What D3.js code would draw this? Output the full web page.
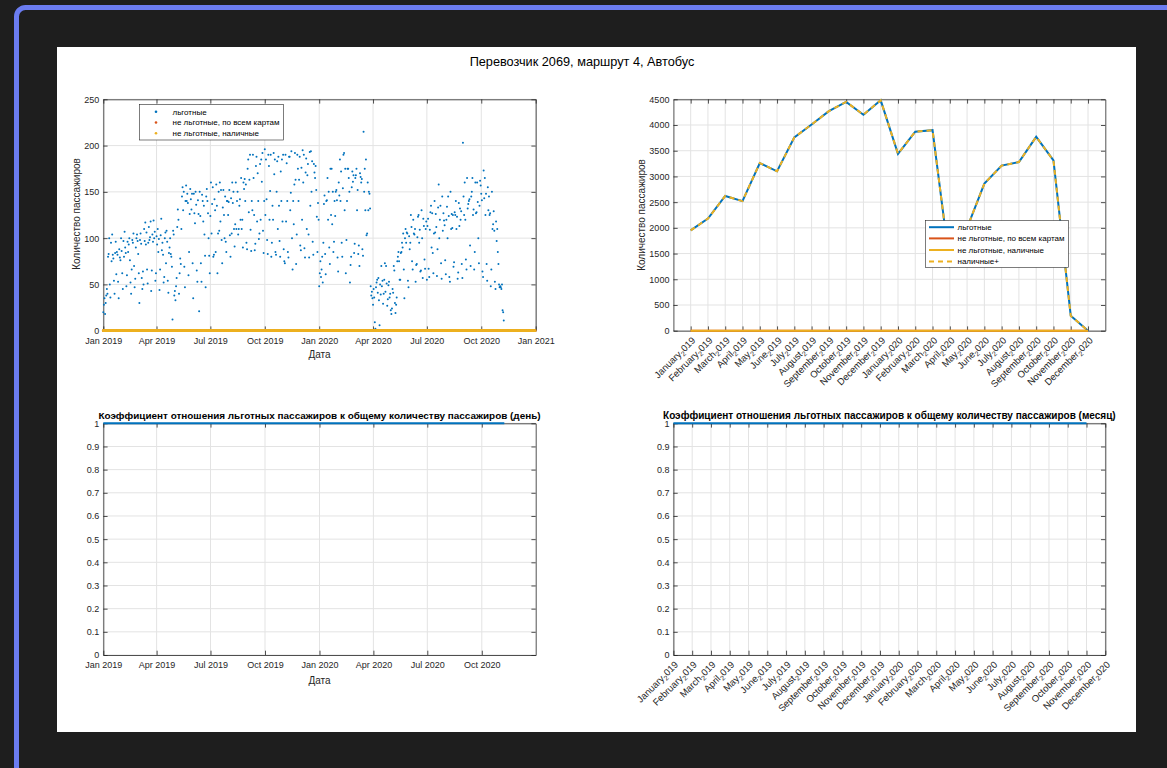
<!DOCTYPE html>
<html><head><meta charset="utf-8">
<script src="https://cdn.jsdelivr.net/npm/d3@7"></script>
<style>
html,body{margin:0;padding:0;background:#1e1e1e;width:1167px;height:768px;overflow:hidden;}
svg{display:block;font-family:"Liberation Sans",Arial,Helvetica,sans-serif;}
</style></head><body>
<svg id="c" width="1167" height="768"></svg>
<script>
// ---------------- DATA ----------------
const figTitle = "Перевозчик 2069, маршрут 4, Автобус";
const seriesNames = ["льготные", "не льготные, по всем картам", "не льготные, наличные", "наличные+"];
const yLabel = "Количество пассажиров";
const xLabel = "Дата";
const dayRatioTitle = "Коэффициент отношения льготных пассажиров к общему количеству пассажиров (день)";
const monthRatioTitle = "Коэффициент отношения льготных пассажиров к общему количеству пассажиров (месяц)";

// daily benefit passengers, 2019 (from Tue 1 Jan, rows of 7 days)
const benefit2019 = [
 20,28,35,18,30,38,45,
 40,80,83,100,50,36,95,
 75,104,82,78,54,40,84,
 96,61,85,82,53,35,88,
 79,76,100,86,62,45,97,
 80,107,90,84,48,60,96,
 85,93,100,76,52,40,66,
 98,95,105,70,47,56,90,
 100,104,97,83,62,30,98,
 105,94,57,45,64,50,110,
 97,117,93,106,66,51,95,
 112,98,101,118,43,65,104,
 96,119,100,107,54,62,102,
 93,110,85,99,44,66,103,
 121,87,95,82,52,58,100,
 106,73,108,96,54,41,84,
 90,100,83,80,69,12,108,
 104,38,43,33,48,57,112,
 131,120,40,62,78,72,110,
 145,155,130,150,69,47,140,
 157,140,148,138,60,85,126,
 153,142,131,148,73,35,148,
 127,116,150,136,65,53,141,
 126,21,150,124,73,53,147,
 140,118,135,104,81,47,145,
 153,140,127,100,81,62,124,
 160,105,137,155,80,82,142,
 130,85,158,135,62,105,150,
 108,160,118,152,98,73,133,
 152,125,100,145,96,85,140,
 140,125,139,152,103,80,143,
 105,160,138,150,110,91,115,
 160,110,140,150,104,110,135,
 142,120,165,110,120,90,160,
 153,164,140,158,95,88,175,
 185,128,163,190,109,86,140,
 130,190,165,125,87,94,178,
 188,118,170,140,99,105,180,
 120,185,161,192,108,84,140,
 196,125,185,142,98,83,190,
 178,120,151,190,80,95,135,
 120,192,169,185,85,82,150,
 183,110,188,135,97,80,172,
 140,185,118,190,88,75,73,
 190,118,181,140,85,79,188,
 188,130,149,194,100,66,140,
 115,158,192,163,72,104,190,
 175,140,163,188,92,87,176,
 120,195,160,190,89,79,171,
 186,110,168,180,104,79,193,
 135,194,150,183,96,82,180,
 171,165,178,152,123,85,138,
 120
];
// daily benefit passengers, 2020 (from Wed 1 Jan, rows of 7 days)
const benefit2020 = [
 48,62,75,58,66,80,52,
 95,137,146,83,61,140,141,
 165,120,150,90,72,175,125,
 175,115,150,85,96,140,124,
 150,152,141,79,64,160,146,
 185,140,172,95,80,154,190,
 192,130,175,62,98,140,175,
 175,165,150,52,71,80,155,
 172,161,168,84,94,165,168,
 175,130,152,83,92,70,170,
 166,160,164,88,81,215,150,
 175,130,185,103,105,160,130,
 150,148,132,48,38,42,35,
 28,45,36,9,2,47,52,
 55,41,57,33,6,50,39,
 70,48,54,29,40,55,73,
 42,70,51,27,34,49,53,
 36,40,22,18,24,45,41,
 70,65,30,19,28,36,75,
 80,85,75,55,55,84,85,
 95,90,105,66,35,100,110,
 95,106,105,54,47,102,88,
 95,125,112,75,66,120,105,
 104,110,53,71,72,101,123,
 125,95,109,64,65,130,100,
 57,121,113,77,67,110,118,
 55,113,121,67,58,109,128,
 135,90,127,84,62,105,140,
 106,126,112,59,88,133,158,
 100,120,135,73,56,145,108,
 127,119,114,76,61,120,134,
 100,145,124,58,53,150,110,
 126,111,125,69,74,128,125,
 140,110,123,56,63,138,113,
 132,120,129,72,57,203,145,
 125,160,120,77,66,165,132,
 137,140,142,92,70,145,150,
 165,125,131,66,85,160,127,
 128,160,139,100,73,135,162,
 157,148,141,64,58,173,143,
 165,125,148,72,54,155,130,
 145,125,127,48,66,150,110,
 115,129,108,53,45,118,97,
 110,85,72,50,47,48,47,
 45,50,22,20,11,0,0,
 0,0,0,0,0,0,0,
 0,0,0,0,0,0,0,
 0,0,0,0,0,0,0,
 0,0,0,0,0,0,0,
 0,0,0,0,0,0,0,
 0,0,0,0,0,0,0,
 0,0,0,0,0,0,0,
 0,0
];
const benefitDaily = benefit2019.concat(benefit2020);
// non-benefit series are zero on every day in the source chart
const nonBenefitCardsDaily = new Array(benefitDaily.length).fill(0);
const nonBenefitCashDaily = new Array(benefitDaily.length).fill(0);

const monthLabels = ["January_2019","February_2019","March_2019","April_2019","May_2019","June_2019",
 "July_2019","August_2019","September_2019","October_2019","November_2019","December_2019",
 "January_2020","February_2020","March_2020","April_2020","May_2020","June_2020",
 "July_2020","August_2020","September_2020","October_2020","November_2020","December_2020"];
const benefitMonthly = [1950,2180,2620,2520,3260,3100,3760,4010,4270,4450,4200,4480,
                        3440,3870,3900,1280,2000,2860,3210,3280,3770,3310,290,0];
const nonBenefitCardsMonthly = [0,0,0,0,0,0,0,0,0,0,0,0,0,0,0,0,0,0,0,0,0,0,0,0];
const nonBenefitCashMonthly  = [0,0,0,0,0,0,0,0,0,0,0,0,0,0,0,0,0,0,0,0,0,0,0,0];
const cashPlusMonthly = [1950,2180,2620,2520,3260,3100,3760,4010,4270,4450,4200,4480,
                         3440,3870,3900,1280,2000,2860,3210,3280,3770,3310,290,0];

const dailyYTicks = [0,50,100,150,200,250];
const monthlyYTicks = [0,500,1000,1500,2000,2500,3000,3500,4000,4500];
const ratioYTicks = [0,0.1,0.2,0.3,0.4,0.5,0.6,0.7,0.8,0.9,1];

// ---------------- DRAW ----------------
const DARK = '#262626', GRID = '#e3e3e3';
const C = ['#0072BD','#D95319','#EDB120','#EDB120'];
const svg = d3.select('#c');

svg.append('rect').attr('x',16.5).attr('y',7.5).attr('width',1400).attr('height',1000)
   .attr('rx',9).attr('fill','none').attr('stroke','#6b7cf0').attr('stroke-width',5);
svg.append('rect').attr('x',57).attr('y',47).attr('width',1079).attr('height',685).attr('fill','#fff');

const start = new Date(2019,0,1);
const dates = benefitDaily.map((d,i)=>d3.timeDay.offset(start,i));

function fitText(t, w){ const l=t.node().getComputedTextLength(); const fs=+t.attr('font-size'); t.attr('font-size', fs*w/l); }

const title = svg.append('text').attr('x',582).attr('y',66).attr('text-anchor','middle')
   .attr('font-size',12).attr('fill','#000').text(figTitle);
fitText(title, 225);

function frame(o){
  const g = svg.append('g');
  const {x,y,L,R,T,B,xt,yt} = o;
  g.selectAll(null).data(xt).join('line').attr('x1',d=>x(d)).attr('x2',d=>x(d))
    .attr('y1',T).attr('y2',B).attr('stroke',GRID).attr('stroke-width',1);
  g.selectAll(null).data(yt).join('line').attr('y1',d=>y(d)).attr('y2',d=>y(d))
    .attr('x1',L).attr('x2',R).attr('stroke',GRID).attr('stroke-width',1);
  const ax = [
    g.append('g').attr('transform',`translate(0,${B})`).call(d3.axisBottom(x).tickValues(xt).tickFormat(o.xfmt||'').tickSize(-4.3).tickSizeOuter(0).tickPadding(7)),
    g.append('g').attr('transform',`translate(0,${T})`).call(d3.axisTop(x).tickValues(xt).tickFormat('').tickSize(-4.3).tickSizeOuter(0)),
    g.append('g').attr('transform',`translate(${L},0)`).call(d3.axisLeft(y).tickValues(yt).tickFormat(o.yfmt).tickSize(-4.3).tickSizeOuter(0).tickPadding(4)),
    g.append('g').attr('transform',`translate(${R},0)`).call(d3.axisRight(y).tickValues(yt).tickFormat('').tickSize(-4.3).tickSizeOuter(0))
  ];
  ax.forEach(a=>{
    a.attr('font-family',null).attr('font-size',9);
    a.select('.domain').attr('stroke',DARK).attr('stroke-width',0.8);
    a.selectAll('.tick line').attr('stroke',DARK).attr('stroke-width',0.8);
    a.selectAll('.tick text').attr('fill',DARK);
  });
  return g;
}
function rotLabels(x, yBase){
  const g = svg.append('g');
  monthLabels.forEach((lab,i)=>{
    const [a,b] = lab.split('_');
    const t = g.append('text').attr('transform',`translate(${x(i+1)+3},${yBase}) rotate(-45)`)
      .attr('text-anchor','end').attr('font-size',9.5).attr('fill',DARK).attr('dy','0.35em');
    t.append('tspan').text(a);
    t.append('tspan').attr('font-size',7).attr('dy',2.5).text(b[0]);
    t.append('tspan').attr('dy',-2.5).text(b.slice(1));
  });
}
function ylab(xc, yc){
  svg.append('text').attr('transform',`translate(${xc},${yc}) rotate(-90)`).attr('text-anchor','middle')
    .attr('dy','0.35em').attr('font-size',10).attr('fill',DARK).text(yLabel);
}

// ---- top-left: daily scatter
{
  const L=103.3,R=535.7,T=99.3,B=330.7;
  const x = d3.scaleTime().domain([new Date(2019,0,1), new Date(2021,0,1)]).range([L,R]);
  const y = d3.scaleLinear().domain([0,250]).range([B,T]);
  const xt = d3.timeMonth.every(3).range(new Date(2019,0,1), new Date(2021,0,2));
  frame({x,y,L,R,T,B,xt,yt:dailyYTicks,xfmt:d3.timeFormat('%b %Y'),yfmt:d3.format('d')});
  const series = [benefitDaily, nonBenefitCardsDaily, nonBenefitCashDaily];
  series.forEach((s,k)=>{
    svg.append('g').selectAll('circle').data(s).join('circle')
      .attr('cx',(d,i)=>x(dates[i])).attr('cy',d=>y(d)).attr('r',k===0?1.0:1.4).attr('fill',C[k]);
  });
  svg.append('text').attr('x',(L+R)/2).attr('y',358).attr('text-anchor','middle').attr('font-size',10).attr('fill',DARK).text(xLabel);
  ylab(76,214);
  const lg = svg.append('g');
  lg.append('rect').attr('x',139.5).attr('y',104.5).attr('width',144).attr('height',35.5).attr('fill','#fff').attr('stroke',DARK).attr('stroke-width',0.6);
  const ly = [111.7,122.5,133.3];
  [0,1,2].forEach(k=>{
    lg.append('circle').attr('cx',156).attr('cy',ly[k]).attr('r',1.3).attr('fill',C[k]);
    lg.append('text').attr('x',172.5).attr('y',ly[k]).attr('dy','0.35em').attr('font-size',8).attr('fill','#000').text(seriesNames[k]);
  });
}

// ---- top-right: monthly lines
{
  const L=673.4,R=1105.3,T=99.3,B=330.7;
  const x = d3.scaleLinear().domain([0,25]).range([L,R]);
  const y = d3.scaleLinear().domain([0,4500]).range([B,T]);
  const xt = monthLabels.map((d,i)=>i+1);
  frame({x,y,L,R,T,B,xt,yt:monthlyYTicks,yfmt:d3.format('d')});
  rotLabels(x, B+8);
  const line = d3.line().x((d,i)=>x(i+1)).y(d=>y(d));
  const ser = [benefitMonthly, nonBenefitCardsMonthly, nonBenefitCashMonthly, cashPlusMonthly];
  ser.forEach((s,k)=>{
    svg.append('path').datum(s).attr('d',line).attr('fill','none').attr('stroke',C[k]).attr('stroke-width',2)
      .attr('stroke-dasharray',k===3?'5,4':null);
  });
  ylab(641,215);
  const lg = svg.append('g');
  lg.append('rect').attr('x',925.5).attr('y',220.5).attr('width',143).attr('height',47).attr('fill','#fff').attr('stroke',DARK).attr('stroke-width',0.6);
  const ly = [227.2,238.4,250,261.6];
  [0,1,2,3].forEach(k=>{
    lg.append('line').attr('x1',929).attr('x2',954).attr('y1',ly[k]).attr('y2',ly[k]).attr('stroke',C[k]).attr('stroke-width',2)
      .attr('stroke-dasharray',k===3?'5,4':null);
    lg.append('text').attr('x',957.5).attr('y',ly[k]).attr('dy','0.35em').attr('font-size',8).attr('fill','#000').text(seriesNames[k]);
  });
}

// ---- bottom-left: daily ratio
{
  const L=103.3,R=535.7,T=423.3,B=655;
  const x = d3.scaleTime().domain([new Date(2019,0,1), new Date(2020,11,31)]).range([L,R]);
  const y = d3.scaleLinear().domain([0,1]).range([B,T]);
  const xt = d3.timeMonth.every(3).range(new Date(2019,0,1), new Date(2020,11,31));
  frame({x,y,L,R,T,B,xt,yt:ratioYTicks,xfmt:d3.timeFormat('%b %Y'),yfmt:d=>d===0?'0':d===1?'1':d3.format('.1f')(d)});
  const ratio = benefitDaily.map((b,i)=>{const s=b+nonBenefitCardsDaily[i]+nonBenefitCashDaily[i]; return s>0?b/s:NaN;});
  svg.append('path').datum(ratio).attr('fill','none').attr('stroke',C[0]).attr('stroke-width',2)
    .attr('d',d3.line().defined(d=>!isNaN(d)).x((d,i)=>x(dates[i])).y(d=>y(d)));
  svg.append('text').attr('x',(L+R)/2).attr('y',684).attr('text-anchor','middle').attr('font-size',10).attr('fill',DARK).text(xLabel);
  const t = svg.append('text').attr('x',(L+R)/2).attr('y',418.5).attr('text-anchor','middle').attr('font-size',10)
    .attr('font-weight','bold').attr('fill','#000').text(dayRatioTitle);
  fitText(t, 443);
}

// ---- bottom-right: monthly ratio
{
  const L=673.4,R=1105.3,T=423.3,B=655;
  const x = d3.scaleLinear().domain([1,24]).range([L,R]);
  const y = d3.scaleLinear().domain([0,1]).range([B,T]);
  const xt = monthLabels.map((d,i)=>i+1);
  frame({x,y,L,R,T,B,xt,yt:ratioYTicks,yfmt:d=>d===0?'0':d===1?'1':d3.format('.1f')(d)});
  rotLabels(x, B+8);
  const ratio = benefitMonthly.map((b,i)=>{const s=b+nonBenefitCardsMonthly[i]+nonBenefitCashMonthly[i]; return s>0?b/s:NaN;});
  svg.append('path').datum(ratio).attr('fill','none').attr('stroke',C[0]).attr('stroke-width',2)
    .attr('d',d3.line().defined(d=>!isNaN(d)).x((d,i)=>x(i+1)).y(d=>y(d)));
  const t = svg.append('text').attr('x',(L+R)/2).attr('y',418.5).attr('text-anchor','middle').attr('font-size',10)
    .attr('font-weight','bold').attr('fill','#000').text(monthRatioTitle);
  fitText(t, 453);
}
</script>
</body></html>
